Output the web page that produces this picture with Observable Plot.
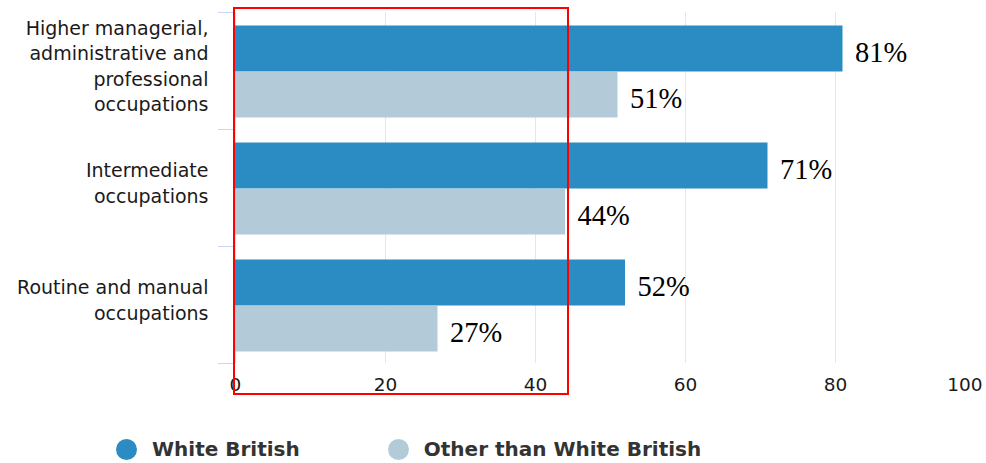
<!DOCTYPE html>
<html>
<head>
<meta charset="utf-8">
<script src="https://cdn.jsdelivr.net/npm/d3@7"></script>
<script src="https://cdn.jsdelivr.net/npm/@observablehq/plot@0.6"></script>
<style>
  html, body { margin: 0; padding: 0; background: #fff; }
  #chart { width: 986px; }
  .legend { display: flex; align-items: center; height: 24px; padding-top: 34px; font-family: "DejaVu Sans", sans-serif; font-weight: bold; font-size: 20px; color: #333; }
  .legend .item { display: flex; align-items: center; }
  .legend .sw { width: 21px; height: 21px; border-radius: 50%; display: inline-block; }
</style>
</head>
<body>
<div id="chart"></div>
<script>
const categories = [
  "Higher managerial, administrative and professional occupations",
  "Intermediate occupations",
  "Routine and manual occupations"
];
const categoryLabels = [
  "Higher managerial,\nadministrative and\nprofessional\noccupations",
  "Intermediate\noccupations",
  "Routine and manual\noccupations"
];
const seriesNames = ["White British", "Other than White British"];
const whiteBritish = [81, 71, 52];
const otherThanWhiteBritish = [51, 44, 27];
const xTicks = [0, 20, 40, 60, 80, 100];
const highlightRange = [0, 44.4];
const colors = ["#2b8cc4", "#b3cbd9"];

const wb = categories.map((c, i) => ({category: c, value: whiteBritish[i]}));
const ot = categories.map((c, i) => ({category: c, value: otherThanWhiteBritish[i]}));
const labelRows = categories.map((c, i) => ({category: c, label: categoryLabels[i]}));

const edges = categories.map(c => ({category: c}));

const plot = Plot.plot({
  width: 986,
  height: 403,
  marginLeft: 235,
  marginRight: 1,
  marginTop: 12,
  marginBottom: 40,
  style: {fontFamily: "DejaVu Sans, sans-serif", overflow: "visible"},
  x: {domain: [0, 100], axis: null},
  y: {domain: categories, padding: 0, axis: null},
  marks: [
    Plot.gridX(xTicks.filter(t => t < 100), {stroke: "#e6e6e6", strokeOpacity: 1, strokeWidth: 1}),
    Plot.ruleY(edges, {y: "category", x1: 0, x2: 0, dy: -58.5, insetLeft: -17, stroke: "#ccd6eb", strokeWidth: 1}),
    Plot.ruleY(edges.slice(-1), {y: "category", x1: 0, x2: 0, dy: 58.5, insetLeft: -17, stroke: "#ccd6eb", strokeWidth: 1}),
    Plot.barX(wb, {y: "category", x: "value", fill: colors[0], insetTop: 13.5, insetBottom: 57.5}),
    Plot.barX(ot, {y: "category", x: "value", fill: colors[1], insetTop: 60, insetBottom: 11.5}),
    Plot.text(wb, {y: "category", x: "value", text: d => d.value + "%", textAnchor: "start", dx: 12, dy: -18.5, fontFamily: "Liberation Serif, serif", fontSize: 28.5, fill: "#000"}),
    Plot.text(ot, {y: "category", x: "value", text: d => d.value + "%", textAnchor: "start", dx: 12, dy: 28, fontFamily: "Liberation Serif, serif", fontSize: 28.5, fill: "#000"}),
    Plot.text(labelRows, {y: "category", x: 0, text: "label", textAnchor: "end", dx: -27, dy: -6, fontSize: 19, lineHeight: 1.33, fill: "#1a1a1a"}),
    Plot.text(xTicks.filter(t => t < 100), {x: d => d, frameAnchor: "bottom", dy: 27, text: d => String(d), fontSize: 18.5, fill: "#1a1a1a"}),
    Plot.text(xTicks.filter(t => t === 100), {x: d => d, frameAnchor: "bottom", dy: 27, dx: -3, textAnchor: "end", text: d => String(d), fontSize: 18.5, fill: "#1a1a1a"}),
    Plot.rect([highlightRange], {x1: d => d[0], x2: d => d[1], fill: "none", stroke: "#ff0000", strokeWidth: 2, insetTop: -4, insetBottom: -31, insetLeft: -1})
  ]
});
document.getElementById("chart").appendChild(plot);

const legend = document.createElement("div");
legend.className = "legend";
seriesNames.forEach((name, i) => {
  const item = document.createElement("div");
  item.className = "item";
  item.style.marginLeft = i === 0 ? "116px" : "88px";
  const sw = document.createElement("span");
  sw.className = "sw";
  sw.style.background = colors[i];
  const t = document.createElement("span");
  t.textContent = name;
  t.style.marginLeft = "15px";
  item.appendChild(sw);
  item.appendChild(t);
  legend.appendChild(item);
});
document.getElementById("chart").appendChild(legend);
</script>
</body>
</html>
